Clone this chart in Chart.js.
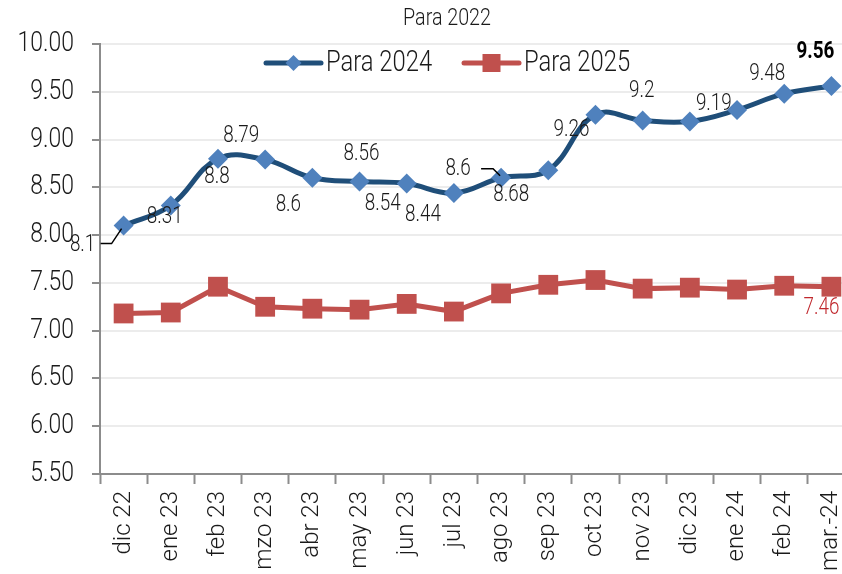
<!DOCTYPE html>
<html>
<head>
<meta charset="utf-8">
<script src="https://cdn.jsdelivr.net/npm/chart.js@4.4.0/dist/chart.umd.min.js"></script>
<style>
  html, body { margin: 0; padding: 0; background: #fff; overflow: hidden; }
  #wrap { width: 842px; height: 574px; overflow: hidden; position: relative; }
  #wrap canvas { position: absolute; left: 0; top: 0; }
</style>
</head>
<body>
<div id="wrap"><canvas id="chart" width="870" height="574"></canvas></div>
<script>
// datos
const chartTitle = 'Para 2022';
const categories = ['dic 22', 'ene 23', 'feb 23', 'mzo 23', 'abr 23', 'may 23', 'jun 23', 'jul 23',
  'ago 23', 'sep 23', 'oct 23', 'nov 23', 'dic 23', 'ene 24', 'feb 24', 'mar.-24'];
const para2024 = [8.1, 8.31, 8.8, 8.79, 8.6, 8.56, 8.54, 8.44, 8.6, 8.68, 9.26, 9.2, 9.19, 9.31, 9.48, 9.56];
const para2025 = [7.18, 7.19, 7.46, 7.25, 7.23, 7.22, 7.28, 7.2, 7.39, 7.48, 7.53, 7.44, 7.45, 7.43, 7.47, 7.46];
const yTickValues = [5.5, 6.0, 6.5, 7.0, 7.5, 8.0, 8.5, 9.0, 9.5, 10.0];

// estilos
const FONT = 'Roboto, "Liberation Sans", sans-serif';
const SQUEEZE = 0.82;           // texto horizontal estrecho
const BLUE_LINE = '#1f4e79';
const BLUE_MARK = '#4f81bd';
const RED = '#c0504d';
const AXIS = '#8c8c8c';

// desplazamiento de cada etiqueta respecto a su punto (null = sin etiqueta)
const blueLabelOffsets = [[-41, 20], [-6, 12], [-1, 19], [-24, -23], [-24, 27], [2, -27], [-24, 21], [-31, 22],
  [-43, -9], [-37, 25], [-24, 16], [-1, -29], [24, -17], null, [-17, -19], [-16, -34]];
const redLabelOffsets = { 15: [-10, 22] };
// líneas guía de las etiquetas desplazadas
const leaders = { 0: [[-23, 18], [-12, 18], [-2, 3]], 8: [[-20, -9], [-8, -9], [-1, -2]] };

function fillNarrow(ctx, text, x, y, align) {
  ctx.save();
  ctx.translate(x, y);
  ctx.scale(SQUEEZE, 1);
  ctx.textAlign = align || 'center';
  ctx.fillText(text, 0, 0);
  ctx.restore();
}

const labelsPlugin = {
  id: 'pointLabels',
  beforeDraw(chart) {
    // etiquetas del eje Y en letra estrecha
    const ys = chart.scales.y;
    if (ys._narrow) return;
    const orig = ys.drawLabels.bind(ys);
    ys.drawLabels = function (area) {
      const ax = this.right - this.options.grid.tickLength - this.options.ticks.padding;
      const ctx = this.ctx;
      ctx.save();
      ctx.translate(ax, 0);
      ctx.scale(SQUEEZE, 1);
      ctx.translate(-ax, 0);
      orig(area);
      ctx.restore();
    };
    ys._narrow = true;
  },
  afterDatasetsDraw(chart) {
    const ctx = chart.ctx;
    ctx.save();
    ctx.textBaseline = 'middle';

    const blue = chart.getDatasetMeta(0).data;
    blue.forEach((pt, i) => {
      const off = blueLabelOffsets[i];
      if (!off) return;
      const last = i === blue.length - 1;
      ctx.font = (last ? 'bold ' : '300 ') + '23px ' + FONT;
      ctx.fillStyle = last ? '#000' : '#1a1a1a';
      fillNarrow(ctx, String(para2024[i]), pt.x + off[0], pt.y + off[1]);
      if (leaders[i]) {
        ctx.strokeStyle = '#000';
        ctx.lineWidth = 1.5;
        ctx.beginPath();
        leaders[i].forEach(([dx, dy], k) => {
          if (k === 0) ctx.moveTo(pt.x + dx, pt.y + dy);
          else ctx.lineTo(pt.x + dx, pt.y + dy);
        });
        ctx.stroke();
      }
    });

    const red = chart.getDatasetMeta(1).data;
    Object.keys(redLabelOffsets).forEach(k => {
      const pt = red[k];
      const off = redLabelOffsets[k];
      ctx.font = '300 23px ' + FONT;
      ctx.fillStyle = '#c0282d';
      fillNarrow(ctx, para2025[k].toFixed(2), pt.x + off[0], pt.y + off[1]);
    });
    ctx.restore();
  },
  afterDraw(chart) {
    const ctx = chart.ctx;
    ctx.save();
    ctx.textBaseline = 'middle';
    // título
    ctx.font = '300 24px ' + FONT;
    ctx.fillStyle = '#1a1a1a';
    fillNarrow(ctx, chartTitle, 447, 19);

    // leyenda
    const items = [{ x: 266, ds: chart.data.datasets[0] }, { x: 464, ds: chart.data.datasets[1] }];
    const y = 63;
    ctx.font = '300 29px ' + FONT;
    items.forEach(({ x, ds }) => {
      ctx.strokeStyle = ds.borderColor;
      ctx.lineWidth = 5;
      ctx.lineCap = 'round';
      ctx.beginPath();
      ctx.moveTo(x, y);
      ctx.lineTo(x + 55, y);
      ctx.stroke();
      ctx.fillStyle = ds.pointBackgroundColor;
      ctx.beginPath();
      if (ds.pointStyle === 'rectRot') {
        ctx.moveTo(x + 27.5 - 8, y);
        ctx.lineTo(x + 27.5, y - 8);
        ctx.lineTo(x + 27.5 + 8, y);
        ctx.lineTo(x + 27.5, y + 8);
      } else {
        ctx.rect(x + 27.5 - 9, y - 9, 18, 18);
      }
      ctx.fill();
      ctx.fillStyle = '#1a1a1a';
      fillNarrow(ctx, ds.label, x + 60, y + 1, 'left');
    });
    ctx.restore();
  }
};

new Chart(document.getElementById('chart'), {
  type: 'line',
  data: {
    labels: categories,
    datasets: [
      {
        label: 'Para 2024',
        data: para2024,
        borderColor: BLUE_LINE,
        borderWidth: 5,
        tension: 0.4,
        pointStyle: 'rectRot',
        pointRadius: 10,
        pointBackgroundColor: BLUE_MARK,
        pointBorderColor: BLUE_MARK,
        pointBorderWidth: 0,
      },
      {
        label: 'Para 2025',
        data: para2025,
        borderColor: RED,
        borderWidth: 5,
        tension: 0,
        pointStyle: 'rect',
        pointRadius: 14,
        pointBackgroundColor: RED,
        pointBorderColor: RED,
        pointBorderWidth: 0,
      }
    ]
  },
  options: {
    responsive: false,
    animation: false,
    devicePixelRatio: 1,
    layout: { padding: { top: 44, right: 15, left: 0, bottom: 0 } },
    plugins: {
      legend: { display: false },
      title: { display: false },
      tooltip: { enabled: false },
    },
    scales: {
      x: {
        offset: true,
        grid: {
          offset: true,
          drawOnChartArea: false,
          drawTicks: true,
          tickLength: 10,
          tickColor: AXIS,
          tickWidth: 2,
          color: AXIS,
        },
        border: { color: AXIS, width: 2 },
        ticks: {
          minRotation: 90,
          maxRotation: 90,
          padding: 7,
          color: '#1a1a1a',
          font: { family: FONT, size: 24, weight: 300 },
        },
        afterFit(scale) { scale.height = 100; }
      },
      y: {
        min: yTickValues[0],
        max: yTickValues[yTickValues.length - 1],
        afterBuildTicks(scale) {
          scale.ticks = yTickValues.map(v => ({ value: v }));
        },
        grid: {
          color: '#ececec',
          lineWidth: 2,
          tickLength: 8,
          tickColor: AXIS,
          tickWidth: 2,
        },
        border: { color: AXIS, width: 2 },
        ticks: {
          padding: 18,
          color: '#1a1a1a',
          font: { family: FONT, size: 28, weight: 300 },
          callback: v => Number(v).toFixed(2),
        },
        afterFit(scale) { scale.width = 100; }
      }
    }
  },
  plugins: [labelsPlugin]
});
</script>
</body>
</html>
